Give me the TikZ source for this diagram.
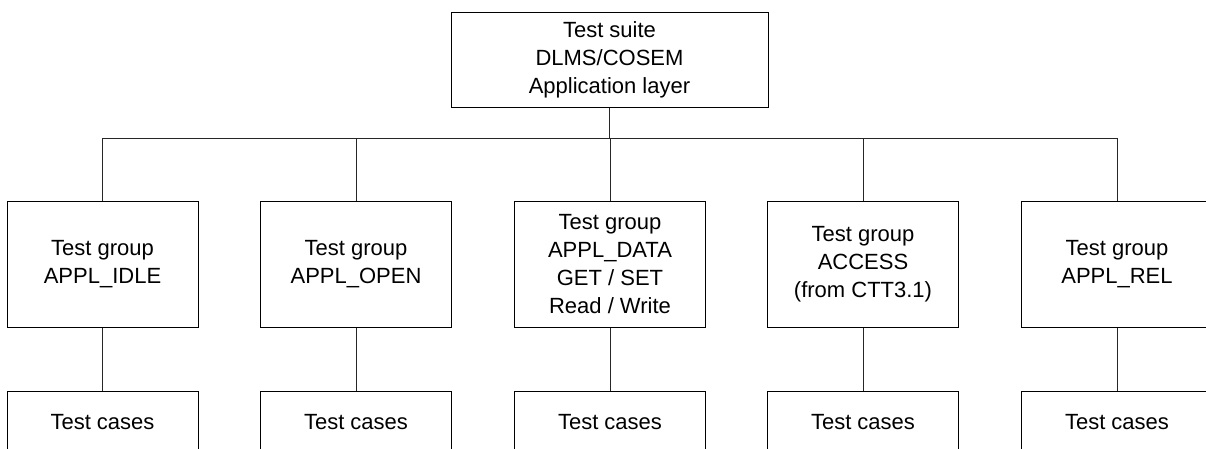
\documentclass[tikz,border=0pt]{standalone}
\usepackage{fontspec}
\setmainfont{Liberation Sans}
\begin{document}
\begin{tikzpicture}[x=1pt,y=1pt,
  box/.style={draw=black, line width=1pt, fill=white, align=center, inner sep=0pt,
    font=\fontsize{22}{28}\selectfont},
  suitebox/.style={box, minimum width=317pt, minimum height=95pt},
  groupbox/.style={box, minimum width=191pt, minimum height=126pt},
  casebox/.style={box, minimum width=191pt, minimum height=62pt},
  link/.style={draw=black!85, line width=1pt}]
\useasboundingbox (0,0) rectangle (1206,-448);
\begin{scope}
\clip (0,0) rectangle (1206,-448);

% root of the test tree
\node[suitebox] (suite) at (609.5,-59.5) {Test suite\\DLMS/COSEM\\Application layer};

% test groups
\node[groupbox] (g1) at (102.5,-264) {Test group\\APPL\_IDLE};
\node[groupbox] (g2) at (356,-264) {Test group\\APPL\_OPEN};
\node[groupbox] (g3) at (610,-264) {Test group\\APPL\_DATA\\GET / SET\\Read / Write};
\node[groupbox] (g4) at (863,-264) {Test group\\ACCESS\\(from CTT3.1)};
\node[groupbox] (g5) at (1117,-264) {Test group\\APPL\_REL};

% test cases under each group
\node[casebox] (c1) at (102.5,-422) {Test cases};
\node[casebox] (c2) at (356,-422) {Test cases};
\node[casebox] (c3) at (610,-422) {Test cases};
\node[casebox] (c4) at (863,-422) {Test cases};
\node[casebox] (c5) at (1117,-422) {Test cases};

% bus joining the suite to its groups
\coordinate (bus) at (609.5,-138);
\draw[link] (suite.south) -- (bus);
\draw[link] (g1.north) |- (g5.north |- bus) -- (g5.north);
\foreach \g in {g2,g3,g4}{
  \draw[link] (\g.north) -- (\g.north |- bus);
}
\foreach \i in {1,...,5}{
  \draw[link] (g\i.south) -- (c\i.north);
}
\end{scope}
\end{tikzpicture}
\end{document}
